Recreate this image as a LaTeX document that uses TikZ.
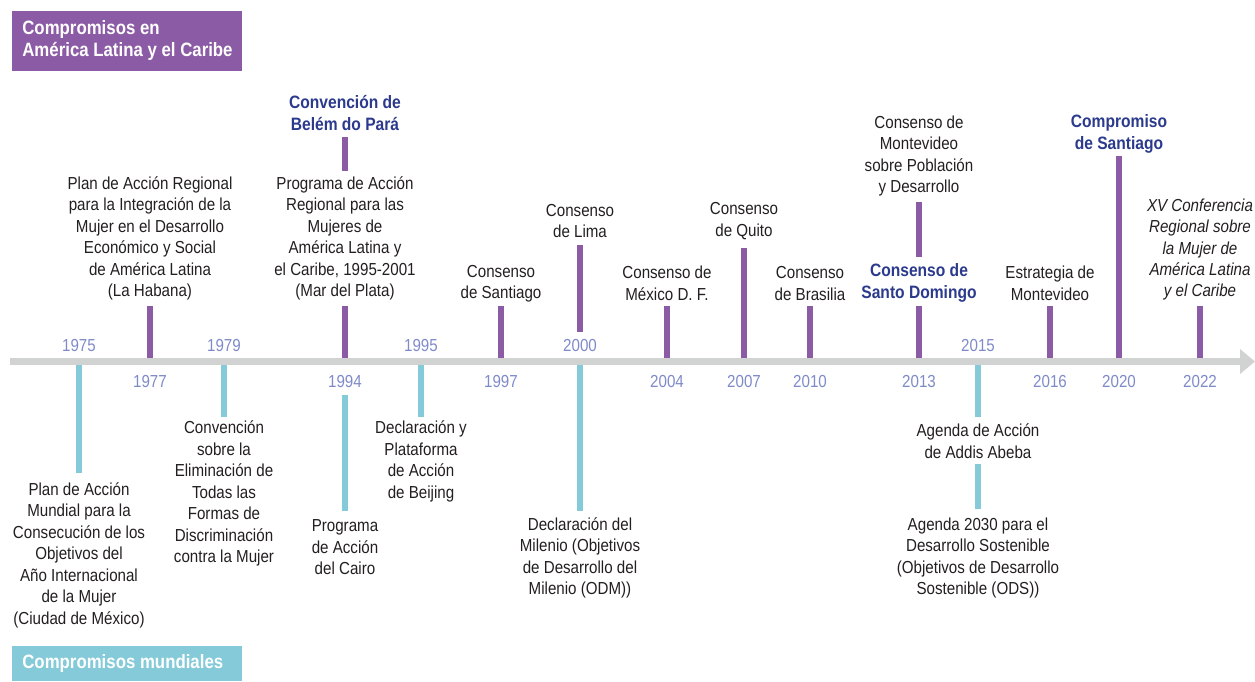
\documentclass[tikz,border=0pt]{standalone}
\usepackage{fontspec}
\setmainfont{Liberation Sans}[FakeStretch=0.87]
\usetikzlibrary{positioning}
\definecolor{LacClr}{HTML}{8C5BA5}
\definecolor{MundClr}{HTML}{84CAD9}
\definecolor{BarClr}{HTML}{D1D2D2}
\definecolor{YearClr}{HTML}{7F8AC8}
\definecolor{HiClr}{HTML}{2B3A8C}
\definecolor{TxtClr}{HTML}{231F20}

\tikzset{
  evt/.style={align=center,inner sep=0pt,text=TxtClr,font=\fontsize{9.9}{12.23}\selectfont},
  hievt/.style={evt,text=HiClr,font=\fontsize{10.2}{12.23}\selectfont\bfseries},
  itevt/.style={evt,font=\fontsize{9.9}{12.23}\selectfont\itshape},
  yr/.style={inner sep=0pt,text=YearClr,font=\fontsize{9.9}{12.23}\selectfont},
  hdr/.style={anchor=west,align=left,inner sep=0pt,text=white,font=\fontsize{11}{12.23}\selectfont\bfseries},
  ltick/.style={draw=LacClr,line width=0.12cm},
  mtick/.style={draw=MundClr,line width=0.12cm}
}

\begin{document}
\begin{tikzpicture}[x=0.02cm,y=-0.02cm]
\useasboundingbox (0,0) rectangle (1255,681);

% headers
\fill[LacClr] (12,11) rectangle (242,71);
\node[hdr] (hdrlac) at (22,40.5) {Compromisos en\\América Latina y el Caribe};
\fill[MundClr] (12,646) rectangle (242,681);
\node[hdr] (hdrmund) at (22,663.5) {Compromisos mundiales};

% timeline
\coordinate (barL) at (10,361.5);
\coordinate (barR) at (1240,361.5);
\coordinate (barT) at (1255,361.5);

% ticks, America Latina y el Caribe
\coordinate (t1977) at (150,306);
\coordinate (t1994) at (345,306);
\coordinate (t1997) at (501,306);
\coordinate (t2000) at (580,245);
\coordinate (b2000) at (580,332);
\coordinate (t2004) at (667,306);
\coordinate (t2007) at (744,248);
\coordinate (t2010) at (810,306);
\coordinate (t2013) at (919,306);
\coordinate (t2016) at (1050,306);
\coordinate (t2020) at (1119,156);
\coordinate (t2022) at (1200,306);
\coordinate (u1994a) at (345,137);
\coordinate (u1994b) at (345,171);
\coordinate (u2013a) at (919,202);
\coordinate (u2013b) at (919,257);

\draw[ltick] (t1977) -- (t1977 |- barL);
\draw[ltick] (t1994) -- (t1994 |- barL);
\draw[ltick] (u1994a) -- (u1994b);
\draw[ltick] (t1997) -- (t1997 |- barL);
\draw[ltick] (t2000) -- (b2000);
\draw[ltick] (t2004) -- (t2004 |- barL);
\draw[ltick] (t2007) -- (t2007 |- barL);
\draw[ltick] (t2010) -- (t2010 |- barL);
\draw[ltick] (t2013) -- (t2013 |- barL);
\draw[ltick] (u2013a) -- (u2013b);
\draw[ltick] (t2016) -- (t2016 |- barL);
\draw[ltick] (t2020) -- (t2020 |- barL);
\draw[ltick] (t2022) -- (t2022 |- barL);

% ticks, mundiales
\coordinate (m1975) at (79,473);
\coordinate (m1979) at (224,417);
\coordinate (m1994a) at (345,395);
\coordinate (m1994b) at (345,511);
\coordinate (m1995) at (421,417);
\coordinate (m2000) at (580,511);
\coordinate (m2015) at (978,417);
\coordinate (m2015a) at (978,464);
\coordinate (m2015b) at (978,509);

\draw[mtick] (m1975 |- barL) -- (m1975);
\draw[mtick] (m1979 |- barL) -- (m1979);
\draw[mtick] (m1994a) -- (m1994b);
\draw[mtick] (m1995 |- barL) -- (m1995);
\draw[mtick] (m2000 |- barL) -- (m2000);
\draw[mtick] (m2015 |- barL) -- (m2015);
\draw[mtick] (m2015a) -- (m2015b);

\draw[BarClr,line width=0.14cm] (barL) -- (barR);
\fill[BarClr] (1240,349) -- (barT) -- (1240,374) -- cycle;

% years
\node[yr] (y1975) at (79,345.5) {1975};
\node[yr] (y1979) at (224,345.5) {1979};
\node[yr] (y1995) at (421,345.5) {1995};
\node[yr] (y2000) at (580,345.5) {2000};
\node[yr] (y2015) at (978,345.5) {2015};
\node[yr] (y1977) at (150,381) {1977};
\node[yr] (y1994) at (345,381) {1994};
\node[yr] (y1997) at (501,381) {1997};
\node[yr] (y2004) at (667,381) {2004};
\node[yr] (y2007) at (744,381) {2007};
\node[yr] (y2010) at (810,381) {2010};
\node[yr] (y2013) at (919,381) {2013};
\node[yr] (y2016) at (1050,381) {2016};
\node[yr] (y2020) at (1119,381) {2020};
\node[yr] (y2022) at (1200,381) {2022};

% America Latina y el Caribe
\node[evt] (habana) at (150,238.5) {Plan de Acción Regional\\para la Integración de la\\Mujer en el Desarrollo\\Económico y Social\\de América Latina\\(La Habana)};
\node[hievt] (belem) at (345,113) {Convención de\\Belém do Pará};
\node[evt] (marplata) at (345,238.5) {Programa de Acción\\Regional para las\\Mujeres de\\América Latina y\\el Caribe, 1995-2001\\(Mar del Plata)};
\node[evt] (santiago97) at (501,283.5) {Consenso\\de Santiago};
\node[evt] (lima) at (580,221) {Consenso\\de Lima};
\node[evt] (mexico04) at (667,283.5) {Consenso de\\México D. F.};
\node[evt] (quito) at (744,221) {Consenso\\de Quito};
\node[evt] (brasilia) at (810,283.5) {Consenso\\de Brasilia};
\node[evt] (montevideo13) at (919,156) {Consenso de\\Montevideo\\sobre Población\\y Desarrollo};
\node[hievt] (stodomingo) at (919,283) {Consenso de\\Santo Domingo};
\node[evt] (estrategia) at (1050,283.5) {Estrategia de\\Montevideo};
\node[hievt] (santiago20) at (1119,134) {Compromiso\\de Santiago};
\node[itevt] (xvconf) at (1200,249.5) {XV Conferencia\\Regional sobre\\la Mujer de\\América Latina\\y el Caribe};

% mundiales
\node[evt] (mexico75) at (79,555) {Plan de Acción\\Mundial para la\\Consecución de los\\Objetivos del\\Año Internacional\\de la Mujer\\(Ciudad de México)};
\node[evt] (cedaw) at (224,493.5) {Convención\\sobre la\\Eliminación de\\Todas las\\Formas de\\Discriminación\\contra la Mujer};
\node[evt] (cairo) at (345,547.5) {Programa\\de Acción\\del Cairo};
\node[evt] (beijing) at (421,461.5) {Declaración y\\Plataforma\\de Acción\\de Beijing};
\node[evt] (milenio) at (580,558) {Declaración del\\Milenio (Objetivos\\de Desarrollo del\\Milenio (ODM))};
\node[evt] (addis) at (978,441) {Agenda de Acción\\de Addis Abeba};
\node[evt] (agenda2030) at (978,558) {Agenda 2030 para el\\Desarrollo Sostenible\\(Objetivos de Desarrollo\\Sostenible (ODS))};

\end{tikzpicture}
\end{document}
